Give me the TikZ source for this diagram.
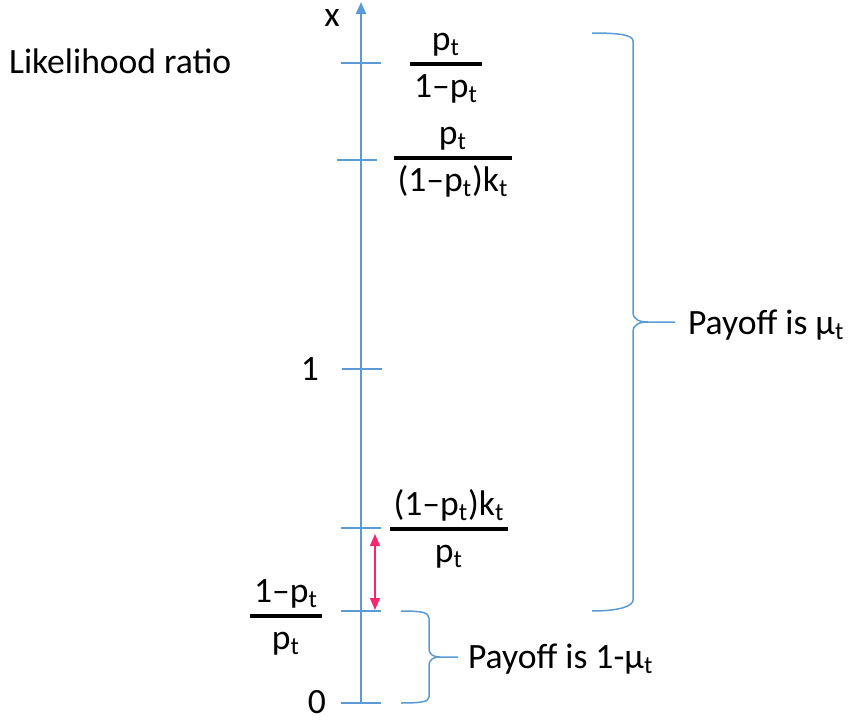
\documentclass[tikz,border=0pt]{standalone}
\usepackage{fontspec}
\setmainfont{Carlito}
\usetikzlibrary{arrows.meta}
\definecolor{axisblue}{RGB}{91,155,213}
\definecolor{gappink}{RGB}{245,40,110}
\newcommand{\probt}{p\textsubscript{t}}
\newcommand{\lrfrac}[2]{{\setlength{\arrayrulewidth}{1.8pt}\setlength{\tabcolsep}{2pt}\begin{tabular}{c}#1\\\hline\rule{0pt}{16pt}#2\end{tabular}}}

\begin{document}
\begin{tikzpicture}[x=0.5pt,y=-0.5pt,font=\fontsize{17.8}{20}\selectfont]
\useasboundingbox (0,0) rectangle (848,723);
\coordinate (axbot) at (361,704);
\coordinate (axtop) at (361,2);
\draw[axisblue,line width=1pt,-{Triangle[width=5pt,length=6pt]}] (axbot) -- (axtop);
\foreach \y/\xl/\nm in {63/341/ta,160/337/tb,369/342/tc,528/341/td,611/341/te,703/341/tf}
  \draw[axisblue,line width=0.75pt] (\xl,\y) coordinate (\nm l) -- ++(40,0) coordinate (\nm r);
\coordinate (gaptop) at (375,534);
\coordinate (gapbot) at (375,610);
\draw[gappink,line width=0.75pt,{Triangle[width=5pt,length=6pt]}-{Triangle[width=5pt,length=6pt]}] (gaptop) -- (gapbot);
\node (xlbl) at (332,18) {x};
\node[anchor=base west] (title) at (2,73) {Likelihood ratio};
\node (frac1) at (446,66) {\lrfrac{\probt}{1–\probt}};
\node (frac2) at (453,160) {\lrfrac{\probt}{(1–\probt)k\textsubscript{t}}};
\node (frac3) at (449,531) {\lrfrac{(1–\probt)k\textsubscript{t}}{\probt}};
\node (frac4) at (286,618) {\lrfrac{1–\probt}{\probt}};
\node[anchor=base] (one) at (310,380) {1};
\node[anchor=base] (zero) at (317,713) {0};
\draw[axisblue,line width=0.75pt] (592,33) .. controls (620,33) and (633,35) .. (633,41) -- (633,312)
  .. controls (633,320) and (640,322) .. (648,322) -- (675,322) coordinate (bigtip);
\draw[axisblue,line width=0.75pt] (648,322) .. controls (640,322) and (633,324) .. (633,332) -- (633,600)
  .. controls (633,606) and (620,611) .. (592,611);
\draw[axisblue,line width=0.75pt] (401,611) .. controls (420,611) and (429,612) .. (429,618) -- (429,648)
  .. controls (429,655) and (434,657) .. (440,657) -- (458,657) coordinate (smalltip);
\draw[axisblue,line width=0.75pt] (440,657) .. controls (434,657) and (429,659) .. (429,666) -- (429,697)
  .. controls (429,702) and (420,703) .. (401,703);
\node[anchor=base west] (paybig) at (681,334) {Payoff is μ\textsubscript{t}};
\node[anchor=base west] (paysmall) at (461,668) {Payoff is 1-μ\textsubscript{t}};
\end{tikzpicture}
\end{document}
